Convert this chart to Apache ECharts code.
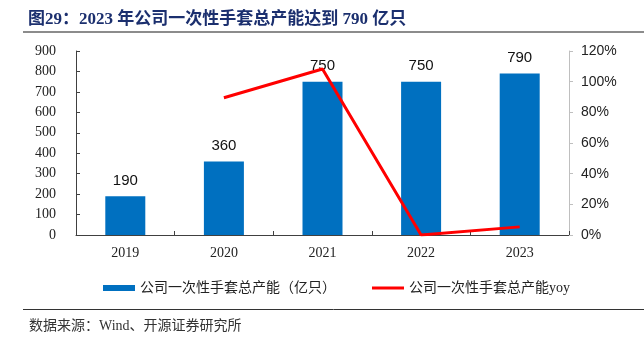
<!DOCTYPE html>
<html><head><meta charset="utf-8">
<script src="https://cdn.jsdelivr.net/npm/echarts@6/dist/echarts.min.js"></script>
<style>html,body{margin:0;padding:0;background:#fff}#c{width:644px;height:339px}</style>
</head><body><div id="c"></div>
<script>
const categories = ['2019', '2020', '2021', '2022', '2023'];
const capacity = [190, 360, 750, 750, 790];
const yoy = [null, 89.5, 108.3, 0, 5.3];
const leftTicks = { min: 0, max: 900, interval: 100 };
const rightTicks = { min: 0, max: 120, interval: 20 };
const barName = '公司一次性手套总产能（亿只）';
const lineName = '公司一次性手套总产能yoy';

const serif = '"Liberation Serif", "Times New Roman", "Noto Sans CJK SC", serif';
const sans = '"Liberation Sans", Arial, "Noto Sans CJK SC", sans-serif';

const chart = echarts.init(document.getElementById('c'), null, { renderer: 'canvas' });
chart.setOption({
  animation: false,
  backgroundColor: '#fff',
  title: [
    { text: '图29：2023 年公司一次性手套总产能达到 790 亿只', left: 23, top: 6,
      textStyle: { fontSize: 17, fontWeight: 'bold', color: '#1b2f6e', fontFamily: serif } },
    { text: '数据来源：Wind、开源证券研究所', left: 24, top: 314,
      textStyle: { fontSize: 14, fontWeight: 'normal', color: '#333', fontFamily: serif } }
  ],
  graphic: [
    { type: 'line', shape: { x1: 23, y1: 32, x2: 644, y2: 32 }, style: { stroke: '#8c8c8c', lineWidth: 2 } },
    { type: 'line', shape: { x1: 23, y1: 309.5, x2: 644, y2: 309.5 }, style: { stroke: '#333', lineWidth: 1 } }
  ],
  legend: {
    left: 98, top: 276, itemWidth: 32, itemHeight: 6, itemGap: 36,
    textStyle: { fontSize: 14, color: '#222', fontFamily: serif },
    data: [
      { name: barName, icon: 'rect' },
      { name: lineName, icon: 'path://M0,0L32,0L32,3L0,3Z', itemStyle: { color: '#ff0000' } }
    ]
  },
  grid: { left: 76, right: 75, top: 51, bottom: 104, containLabel: false },
  xAxis: {
    type: 'category', data: categories,
    axisLine: { lineStyle: { color: '#404040', width: 1 } },
    axisTick: { show: true, inside: true, length: 4, lineStyle: { color: '#404040' } },
    axisLabel: { fontSize: 14, color: '#222', fontFamily: serif, margin: 11 }
  },
  yAxis: [
    { type: 'value', min: leftTicks.min, max: leftTicks.max, interval: leftTicks.interval,
      splitLine: { show: false },
      axisLine: { show: true, lineStyle: { color: '#404040' } },
      axisTick: { show: true, inside: true, length: 4, lineStyle: { color: '#404040' } },
      axisLabel: { fontSize: 14, color: '#222', fontFamily: serif, margin: 20 } },
    { type: 'value', min: rightTicks.min, max: rightTicks.max, interval: rightTicks.interval,
      position: 'right', splitLine: { show: false },
      axisLine: { show: true, lineStyle: { color: '#bfbfbf' } },
      axisTick: { show: true, inside: false, length: 4, lineStyle: { color: '#bfbfbf' } },
      axisLabel: { fontSize: 14, color: '#222', fontFamily: sans, margin: 12, formatter: '{value}%' } }
  ],
  series: [
    { name: barName, type: 'bar', data: capacity, barWidth: 40, yAxisIndex: 0,
      itemStyle: { color: '#0070c0' },
      label: { show: true, position: 'top', distance: 8, fontSize: 15, color: '#111', fontFamily: sans } },
    { name: lineName, type: 'line', data: yoy, yAxisIndex: 1, showSymbol: false, symbol: 'none',
      lineStyle: { color: '#ff0000', width: 3 }, itemStyle: { color: '#ff0000' }, z: 5 }
  ]
});
</script></body></html>
